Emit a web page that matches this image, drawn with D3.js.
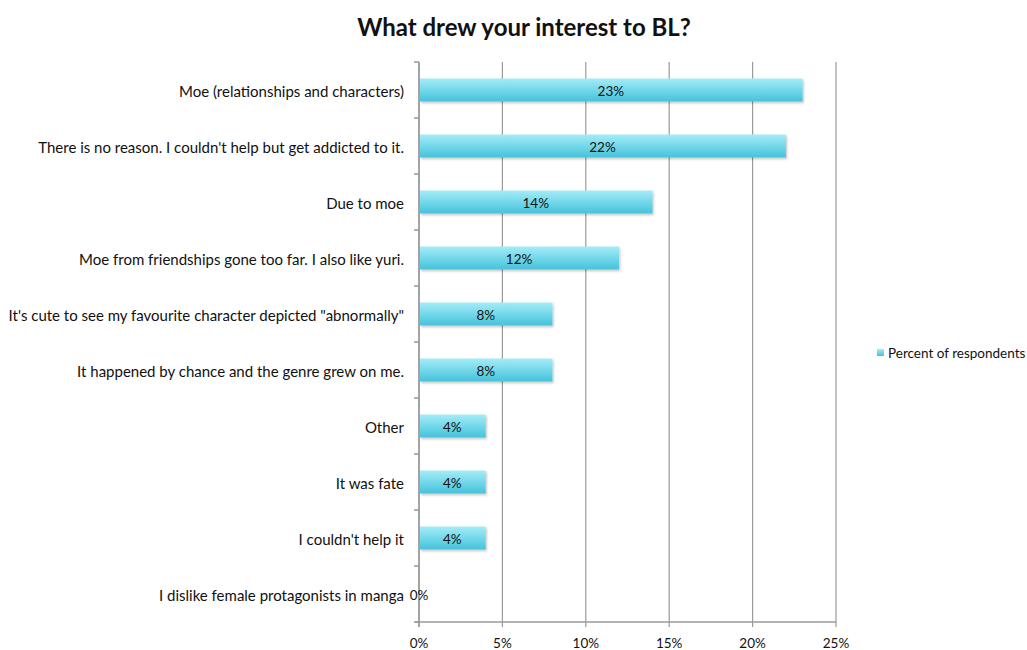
<!DOCTYPE html>
<html>
<head>
<meta charset="utf-8">
<script src="https://cdn.jsdelivr.net/npm/d3@7"></script>
<style>
  body { margin: 0; background: #fff; }
  text { font-family: Lato, "Open Sans", sans-serif; fill: #111; }
</style>
</head>
<body>
<svg id="chart" width="1027" height="650"></svg>
<script>
// categories top to bottom, values in percent
var categories = [
  "Moe (relationships and characters)",
  "There is no reason. I couldn't help but get addicted to it.",
  "Due to moe",
  "Moe from friendships gone too far. I also like yuri.",
  "It's cute to see my favourite character depicted \"abnormally\"",
  "It happened by chance and the genre grew on me.",
  "Other",
  "It was fate",
  "I couldn't help it",
  "I dislike female protagonists in manga"
];
var values = [23, 22, 14, 12, 8, 8, 4, 4, 4, 0];
var xTicks = [0, 5, 10, 15, 20, 25];
var seriesName = "Percent of respondents";

var svg = d3.select("#chart");
var plotLeft = 419, plotRight = 836, plotTop = 62, plotBottom = 622;

var x = d3.scaleLinear().domain([0, 25]).range([plotLeft, plotRight]);
var y = d3.scaleBand().domain(categories).range([plotTop, plotBottom]).paddingInner(0.59).paddingOuter(0.295);

// gradient for the bars
var defs = svg.append("defs");
var grad = defs.append("linearGradient").attr("id", "barGrad")
  .attr("x1", 0).attr("y1", 0).attr("x2", 0).attr("y2", 1);
grad.append("stop").attr("offset", "0%").attr("stop-color", "#a4ecf8");
grad.append("stop").attr("offset", "100%").attr("stop-color", "#45c3db");
var shadow = defs.append("filter").attr("id", "shadow").attr("x", "-5%").attr("y", "-20%").attr("width", "110%").attr("height", "160%");
shadow.append("feDropShadow").attr("dx", 1).attr("dy", 1.5).attr("stdDeviation", 1.2).attr("flood-color", "#000").attr("flood-opacity", 0.25);

// title
svg.append("text")
  .attr("x", 524).attr("y", 36)
  .attr("text-anchor", "middle")
  .style("font-size", "24px").style("font-weight", "bold")
  .text("What drew your interest to BL?");

// vertical grid lines (extend a bit below the axis like tick marks)
svg.append("g").selectAll("line").data(xTicks).join("line")
  .attr("x1", d => x(d)).attr("x2", d => x(d))
  .attr("y1", plotTop).attr("y2", plotBottom + 5)
  .attr("stroke", "#9a9a9a").attr("stroke-width", 1.2);

// x axis line
svg.append("line")
  .attr("x1", plotLeft - 4).attr("x2", plotRight).attr("y1", plotBottom).attr("y2", plotBottom)
  .attr("stroke", "#9a9a9a").attr("stroke-width", 1.5);

// x tick labels
svg.append("g").selectAll("text").data(xTicks).join("text")
  .attr("x", d => x(d)).attr("y", plotBottom + 26)
  .attr("text-anchor", "middle")
  .style("font-size", "13.5px")
  .text(d => d + "%");

// y axis line with ticks between categories
svg.append("line")
  .attr("x1", plotLeft).attr("x2", plotLeft).attr("y1", plotTop).attr("y2", plotBottom + 5)
  .attr("stroke", "#9a9a9a").attr("stroke-width", 1.5);
var bounds = d3.range(categories.length + 1).map(i => plotTop + i * (plotBottom - plotTop) / categories.length);
svg.append("g").selectAll("line").data(bounds).join("line")
  .attr("x1", plotLeft - 5).attr("x2", plotLeft)
  .attr("y1", d => d).attr("y2", d => d)
  .attr("stroke", "#9a9a9a").attr("stroke-width", 1.5);

// category labels
svg.append("g").selectAll("text").data(categories).join("text")
  .attr("x", plotLeft - 15)
  .attr("y", d => y(d) + y.bandwidth() / 2 + 2)
  .attr("dy", "0.35em")
  .attr("text-anchor", "end")
  .style("font-size", "15px")
  .text(d => d);

// bars
svg.append("g").selectAll("rect").data(values).join("rect")
  .attr("x", x(0) + 1)
  .attr("y", (d, i) => y(categories[i]))
  .attr("width", d => Math.max(0, x(d) - x(0) - 1))
  .attr("height", y.bandwidth())
  .attr("fill", "url(#barGrad)")
  .attr("filter", "url(#shadow)");

// value labels
svg.append("g").selectAll("text").data(values).join("text")
  .attr("x", d => d === 0 ? x(0) : (x(0) + x(d)) / 2)
  .attr("y", (d, i) => y(categories[i]) + y.bandwidth() / 2 + 1)
  .attr("dy", "0.35em")
  .attr("text-anchor", "middle")
  .style("font-size", "13.5px")
  .text(d => d + "%");

// legend
var legend = svg.append("g").attr("transform", "translate(877,349)");
legend.append("rect").attr("width", 7).attr("height", 7).attr("fill", "url(#barGrad)");
legend.append("text").attr("x", 11).attr("y", 4).attr("dy", "0.35em")
  .style("font-size", "13.5px").text(seriesName);
</script>
</body>
</html>
